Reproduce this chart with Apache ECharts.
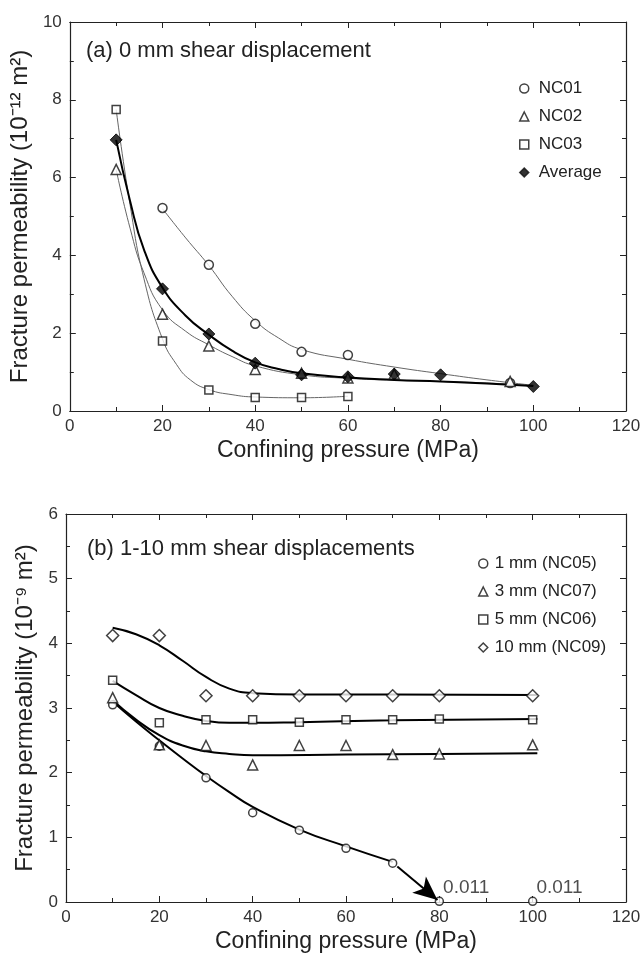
<!DOCTYPE html>
<html>
<head>
<meta charset="utf-8">
<title>Fracture permeability vs confining pressure</title>
<script src="https://cdn.jsdelivr.net/npm/echarts@6/dist/echarts.min.js"></script>
<style>
  html, body { margin: 0; padding: 0; background: #fff; }
  #main { width: 644px; height: 954px; }
</style>
</head>
<body>
<div id="main"></div>
<script>
// (a) 0 mm shear displacement, permeability in 10^-12 m2
var nc01 = [[20, 5.22], [30, 3.76], [40, 2.24], [50, 1.52], [60, 1.44], [95, 0.72]];
var nc02 = [[10, 6.21], [20, 2.49], [30, 1.67], [40, 1.07], [50, 0.97], [60, 0.85], [70, 0.95], [95, 0.76]];
var nc03 = [[10, 7.75], [20, 1.80], [30, 0.54], [40, 0.35], [50, 0.35], [60, 0.37]];
var avgA = [[10, 6.97], [20, 3.14], [30, 1.98], [40, 1.23], [50, 0.93], [60, 0.88], [70, 0.95], [80, 0.93], [100, 0.63]];

// fitted curves in (a)
var fitNC01 = [[20, 5.20], [25, 4.45], [30, 3.74], [35, 2.95], [40, 2.32], [45, 1.88], [50, 1.58], [60, 1.33], [70, 1.13], [80, 0.96], [90, 0.80], [100, 0.66]];
var fitNC02 = [[10, 6.21], [13, 4.70], [16, 3.55], [20, 2.60], [25, 2.05], [30, 1.70], [35, 1.40], [40, 1.16], [50, 0.93], [60, 0.84], [70, 0.79], [80, 0.76], [90, 0.72], [100, 0.65]];
var fitNC03 = [[10, 7.75], [13, 5.30], [16, 3.40], [20, 1.85], [23, 1.20], [26, 0.80], [30, 0.55], [35, 0.42], [40, 0.36], [50, 0.34], [60, 0.38]];
var fitAvg = [[10, 6.97], [13, 5.40], [16, 4.15], [20, 3.17], [25, 2.45], [30, 1.96], [35, 1.55], [40, 1.25], [45, 1.08], [50, 0.97], [60, 0.86], [70, 0.80], [80, 0.76], [90, 0.71], [100, 0.64]];

// (b) 1-10 mm shear displacements, permeability in 10^-9 m2
var mm1 = [[10, 3.05], [20, 2.41], [30, 1.92], [40, 1.38], [50, 1.11], [60, 0.83], [70, 0.60], [80, 0.011], [100, 0.011]];
var mm3 = [[10, 3.16], [20, 2.43], [30, 2.42], [40, 2.12], [50, 2.42], [60, 2.42], [70, 2.28], [80, 2.29], [100, 2.43]];
var mm5 = [[10, 3.43], [20, 2.77], [30, 2.82], [40, 2.82], [50, 2.78], [60, 2.82], [70, 2.82], [80, 2.83], [100, 2.82]];
var mm10 = [[10, 4.12], [20, 4.12], [30, 3.19], [40, 3.19], [50, 3.19], [60, 3.19], [70, 3.19], [80, 3.19], [100, 3.19]];

// fitted curves in (b)
var fit1 = [[10, 3.10], [15, 2.79], [20, 2.50], [25, 2.22], [30, 1.95], [35, 1.70], [40, 1.47], [50, 1.12], [60, 0.86], [70, 0.62]];
var fit3 = [[10, 3.12], [15, 2.82], [20, 2.58], [25, 2.42], [30, 2.33], [35, 2.29], [40, 2.27], [60, 2.28], [80, 2.29], [101, 2.30]];
var fit5 = [[10, 3.42], [15, 3.20], [20, 3.00], [25, 2.88], [30, 2.80], [35, 2.77], [40, 2.77], [50, 2.78], [70, 2.81], [101, 2.83]];
var fit10 = [[10, 4.24], [15, 4.14], [20, 3.97], [25, 3.73], [30, 3.48], [35, 3.30], [40, 3.23], [50, 3.21], [70, 3.21], [101, 3.20]];
var arrowB = [[71, 0.55], [79.6, 0.03]];

var xTicks = [0, 20, 40, 60, 80, 100, 120];
var labelsA = ['NC01', 'NC02', 'NC03', 'Average'];
var labelsB = ['1 mm (NC05)', '3 mm (NC07)', '5 mm (NC06)', '10 mm (NC09)'];

var FONT = '"Liberation Sans", Arial, sans-serif';

function _xAxis(grid, pos, showName) {
    return {
        type: 'value', gridIndex: grid, position: pos,
        min: xTicks[0], max: xTicks[xTicks.length - 1], interval: 20,
        name: showName ? 'Confining pressure (MPa)' : '',
        nameLocation: 'middle', nameGap: 28,
        nameTextStyle: { fontFamily: FONT, fontSize: 23, color: '#222' },
        axisLine: { show: true, onZero: false, lineStyle: { color: '#222', width: 1.2 } },
        axisTick: { show: true, inside: true, length: 6, lineStyle: { color: '#222' } },
        minorTick: { show: true, splitNumber: 2, length: 4, lineStyle: { color: '#222' } },
        axisLabel: { show: showName, margin: 7, fontFamily: FONT, fontSize: 17, color: '#333' },
        splitLine: { show: false }
    };
}

function _yAxis(grid, pos, max, step, name) {
    return {
        type: 'value', gridIndex: grid, position: pos,
        min: 0, max: max, interval: step,
        name: name || '', nameLocation: 'middle', nameGap: 24, nameRotate: 90,
        nameTextStyle: { fontFamily: FONT, fontSize: 24, color: '#222' },
        axisLine: { show: true, onZero: false, lineStyle: { color: '#222', width: 1.2 } },
        axisTick: { show: true, inside: true, length: 6, lineStyle: { color: '#222' } },
        minorTick: { show: true, splitNumber: 2, length: 4, lineStyle: { color: '#222' } },
        axisLabel: { show: !!name, margin: 8, fontFamily: FONT, fontSize: 17, color: '#333' },
        splitLine: { show: false }
    };
}

// smooth fitted curve, no markers
function _fit(data, xi, color, width) {
    return {
        type: 'line', xAxisIndex: xi, yAxisIndex: xi, data: data,
        smooth: 0.5, showSymbol: false, silent: true,
        lineStyle: { color: color, width: width }, z: 2
    };
}

// measured points
function _points(name, data, xi, shape, size, filled) {
    return {
        name: name, type: 'scatter', xAxisIndex: xi, yAxisIndex: xi,
        data: data, symbol: shape, symbolSize: size,
        itemStyle: filled
            ? { color: '#000', borderColor: '#000', borderWidth: 1 }
            : { color: '#fff', borderColor: '#111', borderWidth: 1.5 },
        z: filled ? 5 : 4
    };
}

function _legendItems(names, shapes, filledLast) {
    var items = [];
    for (var i = 0; i < names.length; i++) {
        var filled = filledLast && i === names.length - 1;
        items.push({
            name: names[i], icon: shapes[i],
            itemStyle: { color: filled ? '#000' : '#fff', borderColor: '#111', borderWidth: 1.5 }
        });
    }
    return items;
}

function _drawChart() {
    var myChart = echarts.init(document.getElementById('main'));

    var nc05 = _points(labelsB[0], mm1, 2, 'circle', 8);
    nc05.label = {
        show: true, position: 'right', distance: 2, offset: [-3, -14],
        fontFamily: FONT, fontSize: 19, color: '#222',
        formatter: function (p) { return p.value[1] < 0.05 ? '0.011' : ''; }
    };
    nc05.markLine = {
        silent: true, symbol: ['none', 'arrow'], symbolSize: [16, 24],
        label: { show: false },
        lineStyle: { color: '#000', width: 2, type: 'solid' },
        data: [[{ coord: arrowB[0] }, { coord: arrowB[1] }]]
    };

    var option = {
        animation: false,
        backgroundColor: '#fff',
        textStyle: { fontFamily: FONT },
        title: [
            { text: '(a) 0 mm shear displacement', left: 81, top: 35,
              textStyle: { fontFamily: FONT, fontSize: 22, fontWeight: 'normal', color: '#222' } },
            { text: '(b) 1-10 mm shear displacements', left: 82, top: 533,
              textStyle: { fontFamily: FONT, fontSize: 22, fontWeight: 'normal', color: '#222' } }
        ],
        legend: [
            { orient: 'vertical', left: 514, top: 75, itemWidth: 9, itemHeight: 9, itemGap: 11,
              textStyle: { fontFamily: FONT, fontSize: 17, color: '#222', padding: [0, 0, 0, 5] },
              data: _legendItems(labelsA, ['circle', 'triangle', 'rect', 'diamond'], true) },
            { orient: 'vertical', left: 473, top: 550, itemWidth: 9, itemHeight: 9, itemGap: 11,
              textStyle: { fontFamily: FONT, fontSize: 17, color: '#222', padding: [0, 0, 0, 2] },
              data: _legendItems(labelsB, ['circle', 'triangle', 'rect', 'diamond'], false) }
        ],
        grid: [
            { left: 66, top: 22, width: 560, height: 389 },
            { left: 66, top: 514, width: 560, height: 389 }
        ],
        xAxis: [
            _xAxis(0, 'bottom', true), _xAxis(0, 'top', false),
            _xAxis(1, 'bottom', true), _xAxis(1, 'top', false)
        ],
        yAxis: [
            _yAxis(0, 'left', 10, 2, 'Fracture permeability (10\u207B\u00B9\u00B2 m\u00B2)'),
            _yAxis(0, 'right', 10, 2),
            _yAxis(1, 'left', 6, 1, 'Fracture permeability (10\u207B\u2079 m\u00B2)'),
            _yAxis(1, 'right', 6, 1)
        ],
        series: [
            _fit(fitNC01, 0, '#666', 1),
            _fit(fitNC02, 0, '#666', 1),
            _fit(fitNC03, 0, '#666', 1),
            _fit(fitAvg, 0, '#000', 2),
            _points(labelsA[0], nc01, 0, 'circle', 9),
            _points(labelsA[1], nc02, 0, 'triangle', 10),
            _points(labelsA[2], nc03, 0, 'rect', 8),
            _points(labelsA[3], avgA, 0, 'diamond', 12, true),
            _fit(fit1, 2, '#000', 2), _fit(fit3, 2, '#000', 2),
            _fit(fit5, 2, '#000', 2), _fit(fit10, 2, '#000', 2),
            nc05,
            _points(labelsB[1], mm3, 2, 'triangle', 10),
            _points(labelsB[2], mm5, 2, 'rect', 8),
            _points(labelsB[3], mm10, 2, 'diamond', 12)
        ]
    };
    myChart.setOption(option);
}

_drawChart();
</script>
</body>
</html>
